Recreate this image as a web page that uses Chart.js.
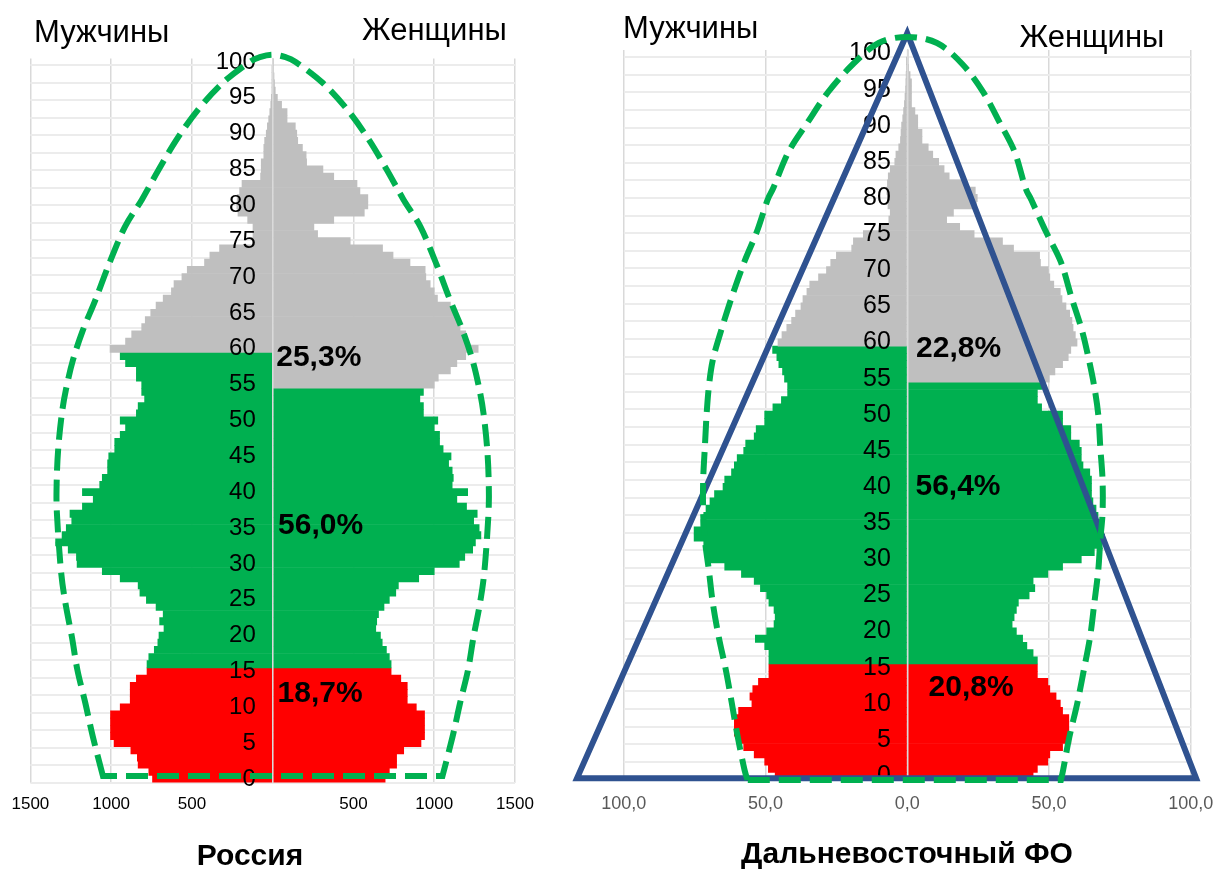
<!DOCTYPE html>
<html><head><meta charset="utf-8">
<script src="https://cdn.jsdelivr.net/npm/chart.js@4.4.1/dist/chart.umd.min.js"></script>
<style>
html,body{margin:0;padding:0;background:#fff;}
#wrap{position:relative;width:1218px;height:869px;overflow:hidden;background:#fff;}
canvas{position:absolute;left:0;top:0;}
</style></head><body>
<div id="wrap"><canvas id="c1" width="1218" height="869"></canvas><canvas id="c2" width="1218" height="869"></canvas></div>
<script>
// ---- categories: single-year ages 0..100
const ages = ['0','1','2','3','4','5','6','7','8','9','10','11','12','13','14','15','16','17','18','19','20','21','22','23','24','25','26','27','28','29','30','31','32','33','34','35','36','37','38','39','40','41','42','43','44','45','46','47','48','49','50','51','52','53','54','55','56','57','58','59','60','61','62','63','64','65','66','67','68','69','70','71','72','73','74','75','76','77','78','79','80','81','82','83','84','85','86','87','88','89','90','91','92','93','94','95','96','97','98','99','100'];

// ---- Россия, thousand persons
const menRussia = [744,767,833,838,878,982,1004,1004,1004,1004,
 944,882,882,882,844,778,778,767,733,711,
 704,673,700,678,722,782,822,833,944,1055,
 1211,1215,1266,1344,1304,1278,1244,1255,1178,1111,
 1178,1071,1055,1022,1022,1015,978,978,944,911,
 944,844,833,793,811,811,844,844,911,944,
 1007,911,873,811,789,755,722,678,627,611,
 562,529,422,389,329,125,122,122,155,215,
 222,220,205,190,75,71,71,55,55,50,
 40,33,25,18,12,8,5,3,2,1,
 0];
const womenRussia = [696,722,767,767,811,918,940,940,940,940,
 889,833,833,833,793,733,733,722,704,678,
 667,638,644,655,689,722,762,778,904,1000,
 1155,1189,1238,1255,1289,1278,1244,1266,1200,1140,
 1207,1111,1118,1111,1089,1104,1055,1033,1033,1000,
 1022,933,933,911,933,1000,1025,1100,1140,1195,
 1272,1200,1195,1160,1140,1125,1100,1020,1000,975,
 948,944,850,745,680,480,278,255,378,567,
 589,589,540,522,378,311,210,207,184,155,
 149,140,89,89,55,29,16,11,8,5,
 2];

// ---- Дальневосточный ФО, thousand persons
const menDFO = [46.6,49,50.3,54,57.7,60,61,61,61,59.5,
 54.8,55.5,54.5,52.5,48.8,48.8,48.8,48.8,50.3,53.6,
 49.6,47,46.6,47,48.8,49.6,51.8,54,58.5,64.4,
 69.6,71,71.8,75.2,75.2,72.8,71.8,71,69.6,68,
 65,64.4,62,61,60,57.7,57,54,53.3,50.3,
 50.3,47.4,44.4,42.2,42.2,43.3,44,45.3,46,47.5,
 45.6,44.2,42.5,40.8,39.4,37.5,36.8,35.4,34.4,31.3,
 28.5,27,25,19.6,19,15.5,9.7,6.5,6,6.8,
 7,7.2,7,6.7,6,4.4,4,3,2.4,2.2,
 2,1.6,1.3,1,0.8,0.6,0.5,0.4,0.3,0.2,
 0];
const womenDFO = [44.4,45.9,49.6,50.3,54.8,57.7,57,57,57,54.8,
 54,52.5,50.3,49.6,45.9,45.9,45.9,44.4,42.2,40.7,
 38.5,37,37.7,38.5,39.2,43,45,44.4,49.6,54.8,
 61.4,66,68.8,69.6,68.8,68,67.3,66.6,65.5,65,
 65,65,64.4,62,61.4,61.4,60.7,57.7,57.7,54.8,
 54.8,47.4,45.9,45.9,47.5,50.1,52.1,54.8,56.8,57.7,
 59.9,59.3,58.5,58.1,57.3,56,54.6,54,51.7,50.3,
 49.8,47,46.7,37.5,33.6,23.6,18.5,13.9,16.3,24.4,
 24.7,24,20,14.8,13,11.1,9,7.4,5.2,5.2,
 3.7,3.7,2.7,1.5,1.5,1.5,1.5,1,0.5,0.3,
 0.2];

// ---- age groups (last age of each group)
const CHILD_MAX = 15, MEN_WORK_MAX = 59, WOMEN_WORK_MAX = 54;

// ---- shares of age groups (text)
const ruShares = ['25,3%', '56,0%', '18,7%'];
const ruShareAt = [[22, 58.7], [33, 35.3], [30, 11.9]];
const dfoShares = ['22,8%', '56,4%', '20,8%'];
const dfoShareAt = [[3.1, 59.1], [2.9, 40.1], [7.5, 12.2]];

// ---- x tick settings
const ruMax = 1500, ruStep = 500;
const dfoMax = 100, dfoStep = 50;

// ---- annotation outlines (in data units: value, age)
const ruOutlineAges = [0.42, 5.86, 10.6, 15.2, 19.8, 24.5, 29.1, 37.1, 41.7, 46.3, 51.0, 54.3, 58.4, 62.6, 66.8, 72.0, 77.0, 80.8, 84.9, 89.1, 93.3, 97.1, 100.0, 100.7, 101.0];
const ruOutlineHalf = [1051, 1113, 1160, 1209, 1243, 1283, 1311, 1336, 1337, 1327, 1305, 1280, 1237, 1175, 1098, 1010, 915, 810, 708, 597, 464, 309, 142, 74, 0];
const dfoOutlineAges = [-0.55, 0.83, 5.40, 10.10, 14.67, 19.24, 23.94, 28.51, 32.66, 36.40, 40.97, 45.54, 49.97, 53.84, 57.58, 61.73, 66.30, 71.14, 75.29, 79.72, 81.52, 86.37, 90.38, 94.67, 98.55, 101.45, 102.3];
const dfoOutlineLeft = [-56.3, -57.4, -59.8, -61.9, -64.0, -66.5, -68.6, -70.0, -71.4, -72.0, -72.0, -71.4, -70.8, -70.0, -68.6, -65.6, -61.9, -57.5, -53.1, -49.3, -47.1, -41.9, -35.3, -27.9, -19.1, -10.1, 0.1];
const dfoOutlineRight = [54.2, 55.0, 57.2, 60.0, 62.3, 64.5, 66.0, 67.4, 68.1, 68.9, 68.9, 68.1, 67.4, 66.0, 64.1, 61.6, 57.9, 54.2, 49.0, 43.8, 41.6, 37.9, 32.7, 26.8, 19.4, 10.5, 0.1];
const dfoTriangle = [[0, 102.8], [-116.5, -0.3], [101.9, -0.3]];

// ---- styles
const RED = '#ff0000', GREEN = '#00b050', GRAY = '#bfbfbf';
const FONT = "'Liberation Sans', Arial, Helvetica, sans-serif";

function barColor(age, workMax) {
  if (age <= CHILD_MAX) return RED;
  if (age <= workMax) return GREEN;
  return GRAY;
}

function smoothPath(ctx, pts) {
  ctx.moveTo(pts[0][0], pts[0][1]);
  for (let i = 0; i < pts.length - 1; i++) {
    const p0 = pts[i - 1] || pts[i], p1 = pts[i], p2 = pts[i + 1], p3 = pts[i + 2] || p2;
    ctx.bezierCurveTo(p1[0] + (p2[0] - p0[0]) / 6, p1[1] + (p2[1] - p0[1]) / 6,
                      p2[0] - (p3[0] - p1[0]) / 6, p2[1] - (p3[1] - p1[1]) / 6, p2[0], p2[1]);
  }
}

function overlay(spec) {
  return {
    id: 'overlay',
    afterDraw(chart) {
      const ctx = chart.ctx, xs = chart.scales.x, ys = chart.scales.y;
      const P = (v, a) => [xs.getPixelForValue(v), ys.getPixelForValue(a)];
      ctx.save();
      if (spec.triangle) {
        ctx.beginPath();
        spec.triangle.forEach((p, i) => { const q = P(p[0], p[1]); i ? ctx.lineTo(q[0], q[1]) : ctx.moveTo(q[0], q[1]); });
        ctx.closePath();
        ctx.lineWidth = 6; ctx.strokeStyle = '#2f5290'; ctx.lineJoin = 'miter'; ctx.setLineDash([]);
        ctx.stroke();
      }
      const pts = [];
      const n = spec.oAges.length;
      for (let i = 0; i < n; i++) pts.push(P(spec.oLeft[i], spec.oAges[i]));
      for (let i = n - 2; i >= 0; i--) pts.push(P(spec.oRight[i], spec.oAges[i]));
      ctx.beginPath();
      smoothPath(ctx, pts);
      ctx.closePath();
      ctx.lineWidth = 6; ctx.strokeStyle = GREEN; ctx.setLineDash([22, 9]); ctx.lineCap = 'butt';
      ctx.stroke();
      ctx.setLineDash([]);
      ctx.fillStyle = '#000';
      ctx.font = 'bold 30px ' + FONT;
      ctx.textAlign = 'left'; ctx.textBaseline = 'middle';
      spec.shares.forEach((t, i) => { const q = P(spec.shareAt[i][0], spec.shareAt[i][1]); ctx.fillText(t, q[0], q[1]); });
      ctx.textBaseline = 'alphabetic';
      ctx.font = '31px ' + FONT;
      spec.headers.forEach(h => { ctx.textAlign = 'left'; ctx.fillText(h.text, h.x, h.y); });
      ctx.font = 'bold 30px ' + FONT;
      ctx.textAlign = 'center';
      ctx.fillText(spec.title.text, spec.title.x, spec.title.y);
      ctx.restore();
    }
  };
}

function pyramid(id, cfg) {
  return new Chart(document.getElementById(id), {
    type: 'bar',
    data: {
      labels: ages,
      datasets: [
        { label: 'Мужчины', data: cfg.men.map(v => -v), xAxisID: 'x', yAxisID: 'y',
          backgroundColor: cfg.men.map((v, i) => barColor(i, MEN_WORK_MAX)),
          grouped: false, barPercentage: 1, categoryPercentage: 1, borderWidth: 0 },
        { label: 'Женщины', data: cfg.women, xAxisID: 'x', yAxisID: 'y',
          backgroundColor: cfg.women.map((v, i) => barColor(i, WOMEN_WORK_MAX)),
          grouped: false, barPercentage: 1, categoryPercentage: 1, borderWidth: 0 }
      ]
    },
    options: {
      indexAxis: 'y', responsive: false, animation: false, events: [],
      layout: { padding: cfg.padding },
      plugins: { legend: { display: false }, tooltip: { enabled: false }, title: { display: false } },
      scales: {
        x: { type: 'linear', min: -cfg.max, max: cfg.max,
             ticks: { stepSize: cfg.step, autoSkip: false, maxRotation: 0, callback: cfg.fmt,
                      font: { family: FONT, size: cfg.xFont }, color: cfg.xColor, padding: 0 },
             grid: { color: '#d9d9d9', lineWidth: 1.5, drawTicks: true, tickLength: cfg.xGap, tickColor: 'rgba(0,0,0,0)' },
             border: { display: false } },
        y: { type: 'category', axis: 'y', reverse: true, offset: true, position: { x: cfg.labelAt },
             ticks: { autoSkip: false, callback: (v, i) => (i % 5 === 0 ? ages[i] : ''),
                      font: { family: FONT, size: cfg.yFont }, color: '#000', padding: 0, z: 2 },
             grid: { display: false, drawTicks: false },
             border: { display: false } },
        yc: { type: 'linear', axis: 'y', position: { x: 0 }, min: 0, max: 1,
              ticks: { display: false }, grid: { display: false, drawTicks: false },
              border: { display: true, color: '#dadada', width: 1.5, z: 1 } },
        yg: { type: 'linear', axis: 'y', position: { x: 0 }, min: -0.5, max: 100.5,
              afterBuildTicks: s => { const t = []; for (let v = -0.5; v <= 100; v += 2.5) t.push({ value: v }); s.ticks = t; },
              ticks: { display: false }, grid: { color: '#ececec', lineWidth: 2, drawTicks: false },
              border: { display: false } }
      }
    },
    plugins: [overlay(cfg.overlay)]
  });
}

pyramid('c1', {
  men: menRussia, women: womenRussia, max: ruMax, step: ruStep,
  fmt: v => (v === 0 ? '' : String(Math.abs(v))),
  xFont: 17, xColor: '#000', xGap: 12, yFont: 24, labelAt: -105,
  padding: { left: 30.4, right: 703, top: 58.4, bottom: 54 },
  overlay: {
    oAges: ruOutlineAges, oLeft: ruOutlineHalf.map(v => -v), oRight: ruOutlineHalf,
    shares: ruShares, shareAt: ruShareAt,
    headers: [{ text: 'Мужчины', x: 34, y: 42 }, { text: 'Женщины', x: 362, y: 40 }],
    title: { text: 'Россия', x: 250, y: 865 }
  }
});

pyramid('c2', {
  men: menDFO, women: womenDFO, max: dfoMax, step: dfoStep,
  fmt: v => Math.abs(v).toFixed(1).replace('.', ','),
  xFont: 18, xColor: '#595959', xGap: 13.6, yFont: 25, labelAt: -5.8,
  padding: { left: 623.8, right: 27.3, top: 49.9, bottom: 54.2 },
  overlay: {
    triangle: dfoTriangle,
    oAges: dfoOutlineAges, oLeft: dfoOutlineLeft, oRight: dfoOutlineRight,
    shares: dfoShares, shareAt: dfoShareAt,
    headers: [{ text: 'Мужчины', x: 623, y: 38.3 }, { text: 'Женщины', x: 1019.5, y: 46.7 }],
    title: { text: 'Дальневосточный ФО', x: 907, y: 863 }
  }
});
</script>
</body></html>
